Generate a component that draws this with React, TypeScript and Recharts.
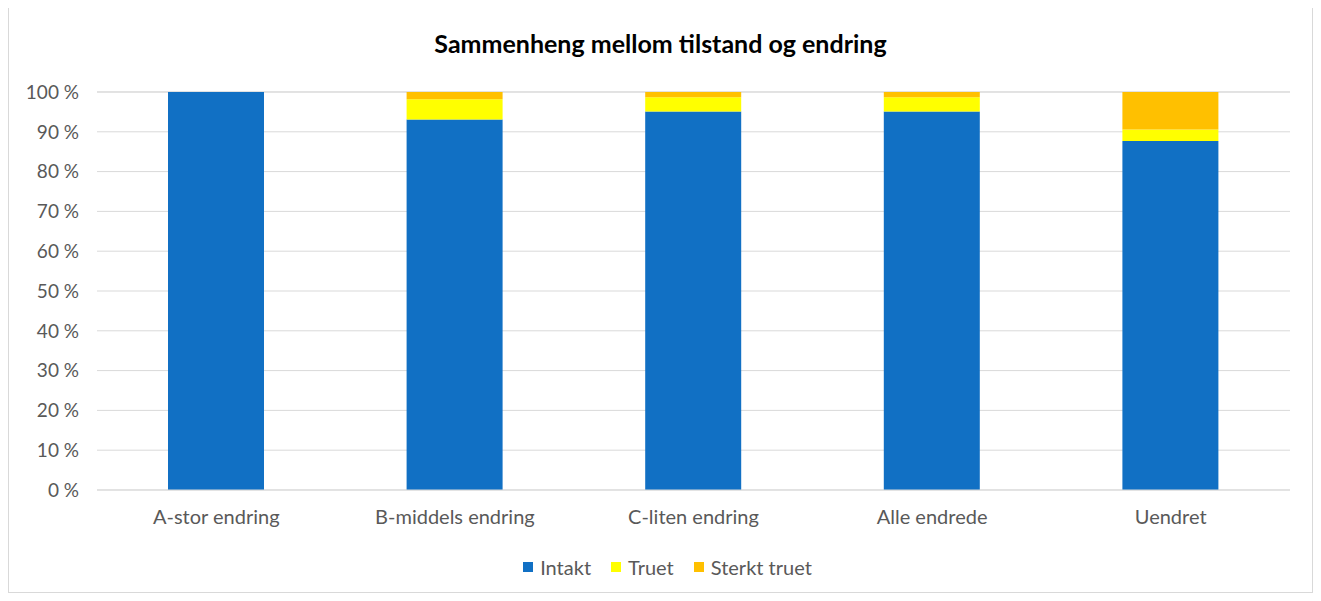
import { BarChart, Bar, XAxis, YAxis, CartesianGrid, Legend } from 'recharts';

const categories = ['A-stor endring', 'B-middels endring', 'C-liten endring', 'Alle endrede', 'Uendret'];
const intakt = [100, 93.1, 95.1, 95.1, 87.7];
const truet = [0, 5.1, 3.6, 3.6, 2.9];
const sterktTruet = [0, 1.8, 1.3, 1.3, 9.4];
const yTicks = [0, 10, 20, 30, 40, 50, 60, 70, 80, 90, 100];

const data = categories.map((name, i) => ({
  name,
  Intakt: intakt[i],
  Truet: truet[i],
  'Sterkt truet': sterktTruet[i],
}));

const colors: Record<string, string> = {
  Intakt: '#1170c4',
  Truet: '#ffff00',
  'Sterkt truet': '#ffc000',
};

const FONT = 'Lato, "Open Sans", sans-serif';

const CustomLegend = () => (
  <div
    style={{
      display: 'flex',
      justifyContent: 'center',
      gap: 20,
      marginTop: 15,
      paddingLeft: 36,
      fontFamily: FONT,
      fontSize: 20,
      color: '#595959',
    }}
  >
    {Object.keys(colors).map((k) => (
      <div key={k} style={{ display: 'flex', alignItems: 'center', gap: 7 }}>
        <span style={{ width: 10, height: 10, background: colors[k], display: 'inline-block' }} />
        <span>{k}</span>
      </div>
    ))}
  </div>
);

export default function App() {
  return (
    <div
      style={{
        position: 'relative',
        width: 1303,
        height: 586,
        border: '1px solid #d9d9d9',
        marginTop: -3,
        background: '#fff',
      }}
    >
      <div
        style={{
          position: 'absolute',
          top: 22,
          left: 0,
          width: '100%',
          textAlign: 'center',
          fontFamily: FONT,
          fontWeight: 'bold',
          fontSize: 25,
          color: '#000',
        }}
      >
        Sammenheng mellom tilstand og endring
      </div>
      <BarChart
        width={1303}
        height={586}
        data={data}
        margin={{ top: 86, right: 22, left: 0, bottom: 12 }}
        barSize={96}
      >
        <CartesianGrid vertical={false} stroke='#d9d9d9' />
        <XAxis
          dataKey='name'
          axisLine={{ stroke: '#d9d9d9' }}
          tickLine={false}
          tickMargin={14}
          height={50}
          tick={{ fill: '#595959', fontSize: 20, fontFamily: FONT }}
        />
        <YAxis
          domain={[0, 100]}
          ticks={yTicks}
          width={88}
          axisLine={false}
          tickLine={false}
          tickMargin={12}
          tickFormatter={(v) => `${v} %`}
          tick={{ fill: '#595959', fontSize: 19, fontFamily: FONT }}
        />
        <Legend verticalAlign='bottom' height={40} content={<CustomLegend />} />
        <Bar dataKey='Intakt' stackId='a' fill={colors.Intakt} isAnimationActive={false} />
        <Bar dataKey='Truet' stackId='a' fill={colors.Truet} isAnimationActive={false} />
        <Bar dataKey='Sterkt truet' stackId='a' fill={colors['Sterkt truet']} isAnimationActive={false} />
      </BarChart>
    </div>
  );
}
